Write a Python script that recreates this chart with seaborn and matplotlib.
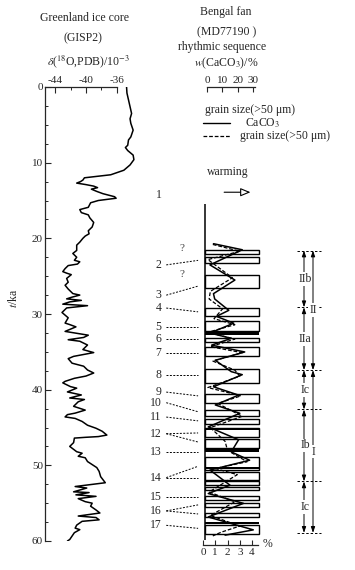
import numpy as np
import matplotlib
matplotlib.use("Agg")
import matplotlib.pyplot as plt
import seaborn as sns

# ── Style ──────────────────────────────────────────────────────────────────────
sns.set_style("ticks")
plt.rcParams["font.family"] = ["Liberation Serif", "DejaVu Serif"]
plt.rcParams["mathtext.fontset"] = "stix"
plt.rcParams["axes.unicode_minus"] = False
plt.rcParams["axes.linewidth"] = 0.9

W, H = 355, 570

# ── Data: GISP2 delta 18O ─────────────────────────────────────────────────────
gisp_ka = [0.0, 0.8, 1.7, 2.6, 3.5, 4.2, 4.8, 5.7, 6.6, 7.0, 7.7, 8.0, 8.4, 9.0,
           9.6, 10.3, 11.0, 11.6, 11.8, 12.0, 12.3, 12.5, 12.7, 12.9, 13.1, 13.3,
           13.5, 13.8, 14.1, 14.5, 14.7, 15.0, 15.3, 15.9, 16.2, 16.6, 16.9, 17.3,
           17.9, 18.5, 19.0, 19.4, 19.7, 20.0, 20.5, 20.9, 21.6, 22.0, 22.5, 22.9,
           23.1, 23.4, 23.6, 24.0, 24.4, 24.6, 24.8, 25.3, 25.8, 26.2, 26.7, 27.1,
           27.3, 27.5, 27.8, 28.0, 28.2, 28.4, 28.7, 28.9, 29.2, 29.8, 30.5, 31.2,
           31.4, 31.7, 32.3, 32.5, 32.8, 33.1, 33.4, 33.6, 34.1, 34.7, 35.1, 35.6,
           35.9, 36.5, 36.9, 37.4, 37.8, 38.2, 38.5, 38.9, 39.1, 39.6, 39.8, 40.3,
           40.7, 41.1, 41.3, 41.6, 42.2, 42.7, 43.1, 43.3, 43.6, 43.8, 44.2, 44.7,
           45.1, 45.5, 46.0, 46.2, 46.3, 46.4, 47.0, 47.5, 48.2, 48.4, 48.8, 49.0,
           49.5, 49.9, 50.3, 50.8, 51.5, 51.9, 52.3, 52.8, 53.0, 53.5, 53.6, 53.9,
           54.1, 54.4, 54.8, 55.0, 55.4, 55.9, 56.3, 56.7, 56.9, 57.2, 57.4, 57.9,
           58.3, 58.5, 58.9, 59.8, 60.0]
gisp_d18o = [-34.75, -34.7, -34.5, -34.3, -34.1, -34.3, -34.2, -33.9, -34.2, -34.5,
             -34.6, -34.9, -34.6, -33.9, -33.8, -34.3, -35.1, -36.8, -38.5, -40.2,
             -40.4, -40.7, -41.2, -40.0, -39.0, -38.5, -39.3, -38.6, -37.8, -36.3,
             -36.1, -38.4, -39.4, -39.7, -40.8, -40.6, -39.7, -39.5, -39.0, -39.2,
             -39.7, -39.6, -40.1, -40.4, -40.8, -41.2, -41.2, -41.7, -41.2, -41.5,
             -40.8, -41.1, -42.3, -42.7, -43.0, -42.5, -41.9, -42.5, -42.3, -42.7,
             -42.3, -41.9, -41.7, -40.8, -41.9, -42.5, -40.6, -42.1, -43.0, -39.8,
             -42.5, -43.1, -42.3, -42.7, -42.1, -41.3, -42.7, -41.5, -39.7, -40.3,
             -42.3, -40.8, -39.8, -40.4, -39.0, -41.6, -42.3, -41.8, -40.3, -39.8,
             -39.0, -40.0, -41.5, -42.7, -43.0, -42.0, -41.2, -42.4, -40.6, -42.1,
             -40.2, -41.0, -41.6, -40.1, -41.4, -42.4, -42.7, -41.4, -40.5, -39.8,
             -38.7, -37.9, -37.3, -38.4, -40.1, -41.5, -41.6, -42.1, -41.2, -40.5,
             -41.0, -40.1, -39.8, -39.2, -38.6, -38.3, -38.1, -37.8, -37.5, -41.4,
             -39.9, -41.6, -39.6, -41.3, -38.7, -41.0, -40.1, -39.2, -39.4, -38.7,
             -38.2, -41.0, -38.7, -38.3, -40.5, -41.2, -41.4, -40.8, -41.5, -42.1,
             -42.4]

# ── Data: Bengal fan MD77190 ──────────────────────────────────────────────────
caco3_ka = [20.7, 21.5, 23.5, 25.5, 27.3, 28.0, 29.5, 30.3, 31.2, 32.5, 33.2, 34.1,
            35.0, 36.1, 37.6, 38.0, 39.6, 40.7, 42.0, 43.1, 44.9, 46.6, 48.2, 49.3,
            50.6, 52.6, 53.7, 55.0, 56.8, 58.5, 59.2]
caco3_pct = [4.2, 23.0, 1.9, 18.2, 4.2, 5.0, 14.2, 6.2, 17.4, 1.9, 15.8, 3.0, 24.6,
             5.4, 15.8, 23.0, 4.2, 20.6, 5.4, 21.4, 0.8, 20.6, 15.8, 27.8, 1.9, 15.0,
             0.8, 23.8, 0.8, 30.2, 11.8]

grain_ka = [20.8, 21.7, 22.8, 25.2, 27.0, 28.0, 29.3, 30.6, 31.4, 32.4, 33.3, 34.3,
            35.1, 36.2, 37.4, 38.2, 39.7, 40.8, 41.8, 43.5, 45.0, 46.8, 48.0, 49.5,
            50.4, 51.2, 53.5, 54.8, 56.6, 58.0, 58.8, 59.3]
grain_pct = [0.8, 3.0, 0.4, 2.4, 0.6, 0.5, 1.6, 0.9, 2.6, 0.4, 2.6, 0.6, 3.2, 0.8,
             2.6, 3.0, 0.4, 3.1, 1.2, 3.2, 0.6, 1.8, 2.0, 3.6, 1.0, 2.8, 0.5, 2.6,
             0.6, 3.0, 1.5, 0.8]

# rhythmic sequence beds (top, bottom in ka)
bed_top = [21.5, 22.4, 24.8, 29.2, 30.9, 33.1, 34.4, 37.2, 40.5, 42.7, 43.9, 45.1,
           46.5, 48.9, 50.8, 52.1, 52.8, 54.0, 55.0, 56.3, 57.9]
bed_bot = [22.1, 23.2, 26.6, 30.2, 32.2, 33.7, 35.5, 39.1, 41.7, 43.5, 44.5, 46.2,
           47.7, 50.6, 51.9, 52.6, 53.3, 54.6, 55.5, 56.8, 59.0]
band_top = [32.2, 45.1, 47.8, 50.2, 57.4]
band_bot = [32.7, 45.3, 48.2, 50.5, 57.7]

# sequence numbers, label depth and pointer targets (ka)
seq_num = ["2", "3", "4", "5", "6", "7", "8", "9", "10", "11", "12", "13", "14",
           "15", "16", "17"]
seq_ka = [23.5, 27.5, 29.2, 31.7, 33.3, 35.1, 38.0, 40.3, 41.7, 43.6, 45.8, 48.2,
          51.6, 54.1, 56.0, 57.9]
seq_target = [[22.9], [26.3], [29.7], [31.7], [33.3], [35.1], [38.0], [40.8], [42.9],
              [44.1], [45.7, 46.9], [48.2], [50.1, 51.6], [54.1], [55.2, 56.4], [58.3]]

# stratigraphic units
sub_bounds = [21.6, 29.1, 37.4, 42.6, 52.1, 58.9]
sub_names = ["IIb", "IIa", "Ic", "Ib", "Ic"]
main_bounds = [21.6, 37.4, 58.9]
main_names = ["II", "I"]


def px_rect(x0, y0, x1, y1):
    return [x0 / W, 1 - y1 / H, (x1 - x0) / W, (y1 - y0) / H]


def to_caco3(g):
    return (g - 0.33) * 8.0


def to_grain(c):
    return np.asarray(c) / 8.0 + 0.33


fig = plt.figure(figsize=(W / 100, H / 100), dpi=100)

# ── GISP2 panel ───────────────────────────────────────────────────────────────
ax1 = fig.add_axes(px_rect(45, 87, 137, 541))
sns.lineplot(x=gisp_d18o, y=gisp_ka, orient="y", sort=False, estimator=None,
             color="black", lw=1.1, ax=ax1)
ax1.set_xlim(-45.3, -33.4)
ax1.set_ylim(60, 0)
ax1.spines["right"].set_visible(False)
ax1.spines["bottom"].set_visible(False)
ax1.spines["top"].set_bounds(-45.3, -36)
ax1.xaxis.tick_top()
ax1.set_xticks([-44, -40, -36])
ax1.set_xticks([-42, -38], minor=True)
ax1.set_yticks(range(0, 61, 10))
ax1.set_yticks(np.arange(0, 60, 2.5), minor=True)
ax1.tick_params(axis="both", which="major", direction="in", length=4, width=0.8,
                labelsize=8, pad=1.5)
ax1.tick_params(axis="both", which="minor", direction="in", length=2.5, width=0.7)
ax1.set_xlabel("")
ax1.set_ylabel(r"$t$/ka", fontsize=8.5)
ax1.yaxis.set_label_coords(-0.27, 0.535)

fig.text(84 / W, 1 - 18 / H, "Greenland ice core", ha="center", va="center", fontsize=8.5)
fig.text(83 / W, 1 - 38 / H, "(GISP2)", ha="center", va="center", fontsize=8.5)
fig.text(88 / W, 1 - 62 / H, r"$\delta$($^{18}$O,PDB)/10$^{-3}$", ha="center",
         va="center", fontsize=8.5)

# ── Bengal fan panel ──────────────────────────────────────────────────────────
ax2 = fig.add_axes(px_rect(203, 87, 262, 545))
ax2.set_xlim(0, 59 / 12.25)
ax2.set_ylim(60.5, 0)

heights = np.array(bed_bot) - np.array(bed_top)
ax2.barh(bed_top, 4.45, height=heights, left=0.15, align="edge", color="white",
         edgecolor="black", linewidth=1.0, zorder=1)
ax2.barh(band_top, 4.45, height=np.array(band_bot) - np.array(band_top), left=0.15,
         align="edge", color="black", linewidth=0, zorder=1.5)
ax2.vlines(0.15, 15.5, 59.8, color="black", lw=1.1, zorder=4)

sns.lineplot(x=to_grain(caco3_pct), y=caco3_ka, orient="y", sort=False,
             estimator=None, color="black", lw=1.1, ax=ax2, zorder=3)
sns.lineplot(x=grain_pct, y=grain_ka, orient="y", sort=False, estimator=None,
             color="black", lw=0.9, linestyle=(0, (3, 1.5)), ax=ax2, zorder=3)
ax2.set_xlabel("")
ax2.set_ylabel("")

for s in ["top", "left", "right"]:
    ax2.spines[s].set_visible(False)
ax2.spines["bottom"].set_bounds(0, 4.5)
ax2.set_yticks([])
ax2.set_xticks(range(0, 5))
ax2.tick_params(axis="x", direction="in", length=3.5, width=0.8, labelsize=8, pad=2)
ax2.text(5.3, 60.4, "%", ha="center", va="center", fontsize=8.5, clip_on=False)

sec = ax2.secondary_xaxis("top", functions=(to_caco3, to_grain))
sec.set_xticks([0, 10, 20, 30])
sec.tick_params(direction="in", length=3.5, width=0.8, labelsize=8, pad=1.5)
sec.spines["top"].set_bounds(0, 31)

fig.text(226 / W, 1 - 12 / H, "Bengal fan", ha="center", va="center", fontsize=8.5)
fig.text(227 / W, 1 - 32 / H, "(MD77190 )", ha="center", va="center", fontsize=8.5)
fig.text(222 / W, 1 - 47 / H, "rhythmic sequence", ha="center", va="center", fontsize=8.5)
fig.text(226 / W, 1 - 63 / H, r"$w$(CaCO$_3$)/%", ha="center", va="center", fontsize=8.5)

# legend block
ax2.text(0.15, 3.0, "grain size(>50 μm)", ha="left", va="center", fontsize=8.5)
ax2.plot([0.0, 2.2], [4.75, 4.75], color="black", lw=1.0, clip_on=False)
ax2.text(3.4, 4.75, r"CaCO$_3$", ha="left", va="center", fontsize=8.5)
ax2.plot([0.0, 2.2], [6.5, 6.5], color="black", lw=0.9, ls=(0, (3, 1.5)), clip_on=False)
ax2.text(3.0, 6.5, "grain size(>50 μm)", ha="left", va="center", fontsize=8.5,
         clip_on=False)

ax2.text(2.0, 11.2, "warming", ha="center", va="center", fontsize=8.5)
ax2.annotate("", xy=(4.1, 13.9), xytext=(1.5, 13.9),
             arrowprops=dict(arrowstyle="-|>,head_length=0.6,head_width=0.25",
                             lw=0.8, color="black", fc="white"))
ax2.text(-3.6, 14.3, "1", ha="center", va="center", fontsize=8.5)

ax2.text(-1.74, 21.3, "?", ha="center", va="center", fontsize=8, color="#444444")
ax2.text(-1.74, 24.8, "?", ha="center", va="center", fontsize=8, color="#444444")

for num, ka, targets in zip(seq_num, seq_ka, seq_target):
    ax2.text(-3.4, ka, num, ha="right", va="center", fontsize=8.5, clip_on=False)
    for t in targets:
        ax2.plot([-3.0, -0.4], [ka, t], color="black", lw=0.7, ls=(0, (2, 1.5)),
                 clip_on=False)

# ── Stratigraphic units ───────────────────────────────────────────────────────
ax3 = fig.add_axes(px_rect(290, 87, 330, 545))
ax3.set_xlim(0, 40)
ax3.set_ylim(60.5, 0)
ax3.axis("off")

arrow_kw = dict(arrowstyle="<|-|>,head_length=0.35,head_width=0.12", lw=0.7,
                color="black", shrinkA=0, shrinkB=0)
for b in sub_bounds:
    ax3.plot([7, 31], [b, b], color="black", lw=0.7, ls=(0, (2.5, 2)))
for top, bot, name in zip(sub_bounds[:-1], sub_bounds[1:], sub_names):
    ax3.annotate("", xy=(14, top), xytext=(14, bot), arrowprops=arrow_kw)
    ax3.text(15, (top + bot) / 2, name, ha="center", va="center", fontsize=8.5,
             bbox=dict(fc="white", ec="none", pad=0.6))
for top, bot, name in zip(main_bounds[:-1], main_bounds[1:], main_names):
    ax3.annotate("", xy=(23, top), xytext=(23, bot), arrowprops=arrow_kw)
    ax3.text(23, (top + bot) / 2, name, ha="center", va="center", fontsize=8.5,
             bbox=dict(fc="white", ec="none", pad=0.6))

fig.savefig("out.png", dpi=100)
